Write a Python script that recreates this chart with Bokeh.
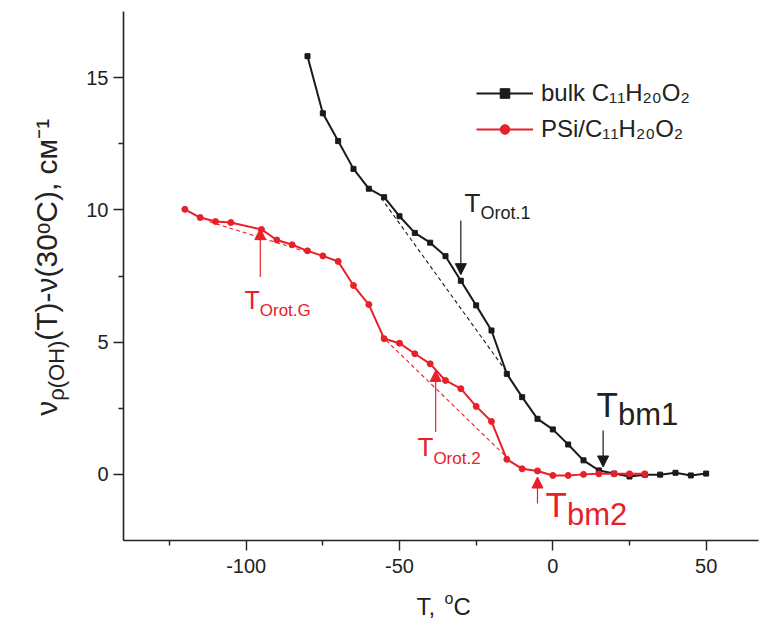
import numpy as np
from bokeh.plotting import figure
from bokeh.layouts import row, column
from bokeh.models import FixedTicker, Label, Arrow, NormalHead, Legend, LegendItem, Range1d
from bokeh.embed import file_html
from bokeh.resources import INLINE

# ---------------- data ----------------
bulk_T = [-80, -75, -70, -65, -60, -55, -50, -45, -40, -35, -30, -25, -20, -15,
          -10, -5, 0, 5, 10, 15, 20, 25, 30, 35, 40, 45, 50]
bulk_dv = [15.81, 13.65, 12.60, 11.55, 10.80, 10.48, 9.76, 9.13, 8.76, 8.25, 7.32,
           6.39, 5.44, 3.80, 2.92, 2.10, 1.70, 1.13, 0.53, 0.15, 0.03, -0.08,
           -0.01, -0.01, 0.06, -0.04, 0.03]

psi_T = [-120, -115, -110, -105, -95, -90, -85, -80, -75, -70, -65, -60, -55, -50,
         -45, -40, -35, -30, -25, -20, -15, -10, -5, 0, 5, 10, 15, 20, 25, 30]
psi_dv = [10.02, 9.71, 9.56, 9.52, 9.26, 8.86, 8.68, 8.45, 8.26, 8.05, 7.14, 6.42,
          5.13, 4.96, 4.56, 4.18, 3.55, 3.24, 2.57, 2.00, 0.57, 0.21, 0.13, -0.04,
          -0.04, 0.00, 0.02, 0.02, 0.02, 0.02]

# tangent (dashed) construction lines
bulk_tan_T = [-56, -14]
bulk_tan_dv = [10.45, 3.70]
psi_tanG_T = [-112, -80]
psi_tanG_dv = [9.55, 8.40]
psi_tan2_T = [-56, -14]
psi_tan2_dv = [5.25, 0.53]

# transition arrows: x, y_from, y_to
arr_orot1 = (-30.0, 9.6, 7.55)
arr_bm1 = (16.4, 1.66, 0.28)
arr_bm2 = (-5.0, -1.1, -0.1)
arr_orot2 = (-38.2, 1.6, 3.93)
arr_orotG = (-95.4, 7.46, 9.29)

x_ticks = [-100, -50, 0, 50]
x_minor = [-125, -75, -25, 25]
y_ticks = [0, 5, 10, 15]
y_minor = [2.5, 7.5, 12.5]

X_RANGE = (-140.0, 67.07)
Y_RANGE = (-2.5, 17.5)

BLACK = "#1a1a1a"
TXT = "#222222"
RED = "#e8202a"
FONT = "Liberation Sans"

# ---------------- page geometry ----------------
YL_W = 72                 # left strip holding the y-axis title
MAIN_W, MAIN_H = 688, 585
XL_H = 35                 # bottom strip holding the x-axis title
MB_L, MB_R, MB_T, MB_B = 51, 2, 11, 45

# ---------------- main figure ----------------
p = figure(width=MAIN_W, height=MAIN_H, x_range=X_RANGE, y_range=Y_RANGE,
           output_backend="svg", toolbar_location=None,
           min_border_left=MB_L, min_border_right=MB_R,
           min_border_top=MB_T, min_border_bottom=MB_B)
p.outline_line_color = None
p.xgrid.visible = False
p.ygrid.visible = False

for ax in (p.xaxis[0], p.yaxis[0]):
    ax.axis_line_color = TXT
    ax.axis_line_width = 1.6
    ax.major_tick_line_color = TXT
    ax.minor_tick_line_color = TXT
    ax.major_tick_line_width = 1.4
    ax.minor_tick_line_width = 1.4
    ax.major_tick_in = 0
    ax.major_tick_out = 10
    ax.minor_tick_in = 0
    ax.minor_tick_out = 5
    ax.major_label_text_font = FONT
    ax.major_label_text_font_size = "20px"
    ax.major_label_text_color = TXT

p.xaxis[0].ticker = FixedTicker(ticks=x_ticks, minor_ticks=x_minor)
p.yaxis[0].ticker = FixedTicker(ticks=y_ticks, minor_ticks=y_minor)
p.xaxis[0].major_label_overrides = {t: str(t) for t in x_ticks}
p.xaxis[0].major_label_standoff = 8
p.yaxis[0].major_label_standoff = 5

# dashed tangents
p.line(bulk_tan_T, bulk_tan_dv, line_color=BLACK, line_width=1.1, line_dash="4 3")
p.line(psi_tanG_T, psi_tanG_dv, line_color=RED, line_width=1.1, line_dash="4 3")
p.line(psi_tan2_T, psi_tan2_dv, line_color=RED, line_width=1.1, line_dash="4 3")

# series
bl = p.line(bulk_T, bulk_dv, line_color=BLACK, line_width=2)
bm = p.scatter(bulk_T, bulk_dv, marker="square", size=5, fill_color=BLACK, line_color=BLACK)
rl = p.line(psi_T, psi_dv, line_color=RED, line_width=2)
rm = p.scatter(psi_T, psi_dv, marker="circle", size=6, fill_color=RED, line_color=RED)

legend = Legend(items=[LegendItem(label="bulk C\u2081\u2081H\u2082\u2080O\u2082", renderers=[bl, bm]),
                       LegendItem(label="PSi/C\u2081\u2081H\u2082\u2080O\u2082", renderers=[rl, rm])],
                location=(353, 397), background_fill_alpha=0, border_line_color=None,
                label_text_font=FONT, label_text_font_size="24px", label_text_color=TXT,
                glyph_width=57, glyph_height=24, label_height=24, label_standoff=8,
                spacing=8, padding=0, margin=0)
p.add_layout(legend)

# arrows
def arrow(spec, color, width):
    x, y0, y1 = spec
    p.add_layout(Arrow(x_start=x, y_start=y0, x_end=x, y_end=y1, line_color=color, line_width=width,
                       end=NormalHead(size=11, fill_color=color, line_color=color, line_width=1)))

arrow(arr_orot1, BLACK, 1.2)
arrow(arr_bm1, BLACK, 1.2)
arrow(arr_bm2, RED, 1.2)
arrow(arr_orot2, RED, 1.2)
arrow(arr_orotG, RED, 1.2)

# ---------------- text helpers (page pixel anchors -> data) ----------------
FL, FR = YL_W + MB_L, YL_W + MAIN_W - MB_R
FT, FB = MB_T, MAIN_H - MB_B
SX = (FR - FL) / (X_RANGE[1] - X_RANGE[0])
SY = (FB - FT) / (Y_RANGE[1] - Y_RANGE[0])

def X(px):
    return X_RANGE[0] + (px - FL) / SX

def Y(py):
    return Y_RANGE[0] + (FB - py) / SY

ADV = {' ': 278, ',': 278, '-': 333, '.': 278, '/': 278, '(': 333, ')': 333,
       'C': 722, 'G': 778, 'H': 722, 'O': 778, 'P': 667, 'S': 667, 'T': 611,
       'b': 556, 'i': 222, 'k': 500, 'l': 222, 'm': 833, 'o': 556, 'r': 333,
       't': 278, 'u': 556, '\u03bd': 500, '\u03c1': 578, '\u0441': 500, '\u043c': 573}

def tw(s, size):
    return sum(ADV.get(c, 556) for c in s) * size / 1000.0

MID = 0.35  # distance from baseline to the text middle, in em

def rich(fig, fx, fy, pieces, px, py, color, vertical=False, spread=1.0):
    cum = 0.0
    for text, size, shift in pieces:
        if vertical:
            x, y, ang = px - shift - MID * size, py - cum, np.pi / 2
        else:
            x, y, ang = px + cum, py - shift - MID * size, 0
        fig.add_layout(Label(x=fx(x), y=fy(y), text=text, angle=ang,
                             text_font=FONT, text_font_size=f"{size}px",
                             text_color=color, text_baseline="middle", text_align="left"))
        cum += tw(text, size) * spread

# in-plot annotations (page pixel baseline anchors)
rich(p, X, Y, [("T", 26, 0), ("Orot.1", 18, -7)], 464, 212, TXT)
rich(p, X, Y, [("T", 35, 0), ("bm1", 31, -9)], 596, 416, TXT)
rich(p, X, Y, [("T", 35, 0), ("bm2", 31, -9)], 545, 516, RED)
rich(p, X, Y, [("T", 26, 0), ("Orot.2", 17, -8)], 417, 456, RED)
rich(p, X, Y, [("T", 25, 0), ("Orot.G", 17, -8)], 244, 308, RED)

ident = lambda v: v

# ---------------- y-axis title strip ----------------
yl = figure(width=YL_W, height=MAIN_H, x_range=Range1d(0, YL_W), y_range=Range1d(MAIN_H, 0),
            output_backend="svg", toolbar_location=None, x_axis_type=None, y_axis_type=None,
            min_border=0)
yl.outline_line_color = None
yl.xgrid.visible = False
yl.ygrid.visible = False
rich(yl, ident, ident,
     [("\u03bd", 30, 0), ("\u03c1(OH)", 22, -8),
      ("(T)-\u03bd(30\u1d52C), \u0441\u043c\u207b\u00b9", 30, 0)],
     56, 447, TXT, vertical=True, spread=1.1)

# ---------------- x-axis title strip ----------------
XL_W = YL_W + MAIN_W
xl = figure(width=XL_W, height=XL_H, x_range=Range1d(0, XL_W), y_range=Range1d(MAIN_H + XL_H, MAIN_H),
            output_backend="svg", toolbar_location=None, x_axis_type=None, y_axis_type=None,
            min_border=0)
xl.outline_line_color = None
xl.xgrid.visible = False
xl.ygrid.visible = False
rich(xl, ident, ident, [("T, ", 24, 0), ("o", 16, 10), ("C", 24, 0)], 416, 614, TXT)

layout = column(row(yl, p), xl)
open("out.html", "w").write(file_html(layout, INLINE))
